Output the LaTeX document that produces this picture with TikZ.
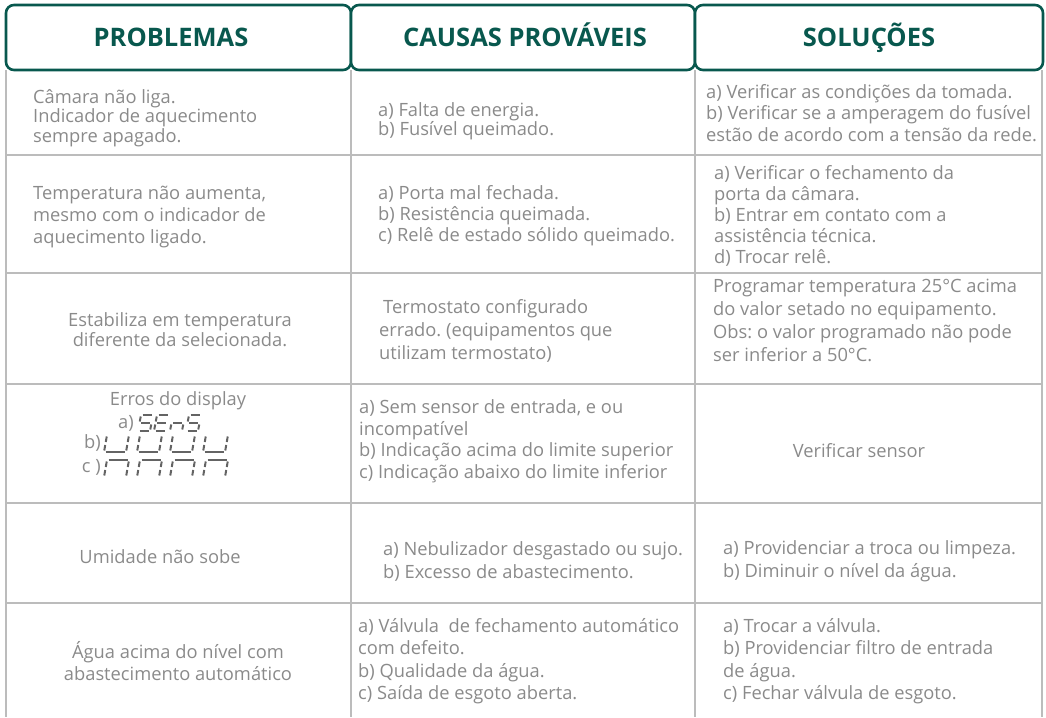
\documentclass[tikz,border=0pt]{standalone}
\usepackage{fontspec}
\setmainfont{Open Sans}
\frenchspacing

\definecolor{headgreen}{RGB}{8,88,78}
\definecolor{txtgray}{RGB}{138,138,138}
\definecolor{gridgray}{RGB}{188,188,188}
\definecolor{seggray}{RGB}{100,100,100}

\tikzset{
  gridline/.style={draw=gridgray, line width=1.6pt},
  headbox/.style={draw=headgreen, line width=2.6pt, rounded corners=8pt, fill=white},
  headtxt/.style={text=headgreen, font=\bfseries\fontsize{25.5}{30}\selectfont, inner sep=0pt, anchor=base},
  cell/.style={text=txtgray, inner sep=0pt, align=left, anchor=west, font=\fontsize{18.3}{22}\selectfont},
  segline/.style={draw=seggray, line width=2pt, shorten >=1.5pt, shorten <=1.5pt}
}

\begin{document}
\begin{tikzpicture}[x=1pt,y=-1pt]
	\useasboundingbox (0,0) rectangle (1046,717);

	% table rules
	\foreach \x in {6,351,695,1042}
		\draw[gridline] (\x,70) -- (\x,717);
	\foreach \y in {155,273,384,503,603}
		\draw[gridline] (6,\y) -- (1042,\y);

	% header
	\draw[headbox] (6,5) rectangle (351,70);
	\draw[headbox] (351,5) rectangle (695,70);
	\draw[headbox] (695,5) rectangle (1043,70);
	\node[headtxt] (hprob) at (171,47) {PROBLEMAS};
	\node[headtxt] (hcaus) at (525,47) {CAUSAS PROVÁVEIS};
	\node[headtxt] (hsol) at (869,47) {SOLUÇÕES};

	% row 1
	\node[cell, font=\fontsize{18.3}{19.5}\selectfont] (prob1) at (33,118) {Câmara não liga.\\Indicador de aquecimento\\sempre apagado.};
	\node[cell, font=\fontsize{18.3}{19.5}\selectfont] (caus1) at (378,121) {a) Falta de energia.\\b) Fusível queimado.};
	\node[cell, font=\fontsize{18.3}{21.5}\selectfont] (sol1) at (706,113) {a) Verificar as condições da tomada.\\b) Verificar se a amperagem do fusível\\estão de acordo com a tensão da rede.};

	% row 2
	\node[cell] (prob2) at (33,217) {Temperatura não aumenta,\\mesmo com o indicador de\\aquecimento ligado.};
	\node[cell, font=\fontsize{18.3}{21}\selectfont] (caus2) at (378,216) {a) Porta mal fechada.\\b) Resistência queimada.\\c) Relê de estado sólido queimado.};
	\node[cell, font=\fontsize{18.3}{21}\selectfont] (sol2) at (714,216) {a) Verificar o fechamento da\\porta da câmara.\\b) Entrar em contato com a\\assistência técnica.\\d) Trocar relê.};

	% row 3
	\node[cell, align=center, anchor=center, font=\fontsize{18.3}{20}\selectfont] (prob3) at (180,330) {Estabiliza em temperatura\\diferente da selecionada.};
	\node[cell, font=\fontsize{18.3}{23}\selectfont] (caus3) at (379,331) {\hspace*{4pt}Termostato configurado\\errado. (equipamentos que\\utilizam termostato)};
	\node[cell, font=\fontsize{18.3}{23}\selectfont] (sol3) at (713,320) {Programar temperatura 25°C acima\\do valor setado no equipamento.\\Obs: o valor programado não pode\\ser inferior a 50°C.};

	% row 4
	\node[cell, anchor=center] (prob4) at (178,401) {Erros do display};
	\node[cell, anchor=east] (erra) at (134,423) {a)};
	\node[cell, anchor=east] (errb) at (101,443) {b)};
	\node[cell, anchor=east] (errc) at (101,467) {c )};
	\node[cell, font=\fontsize{18.3}{21.5}\selectfont] (caus4) at (359,441) {a) Sem sensor de entrada, e ou\\incompatível\\b) Indicação acima do limite superior\\c) Indicação abaixo do limite inferior};
	\node[cell, anchor=center] (sol4) at (859,451) {Verificar sensor};

	% row 5
	\node[cell, anchor=center] (prob5) at (160,557) {Umidade não sobe};
	\node[cell, font=\fontsize{18.3}{23}\selectfont] (caus5) at (383,561) {a) Nebulizador desgastado ou sujo.\\b) Excesso de abastecimento.};
	\node[cell, font=\fontsize{18.3}{23}\selectfont] (sol5) at (723,561) {a) Providenciar a troca ou limpeza.\\b) Diminuir o nível da água.};

	% row 6
	\node[cell, align=center, anchor=center] (prob6) at (178,661) {Água acima do nível com\\abastecimento automático};
	\node[cell, font=\fontsize{18.3}{22.5}\selectfont] (caus6) at (358,661) {a) Válvula\ \ de fechamento automático\\com defeito.\\b) Qualidade da água.\\c) Saída de esgoto aberta.};
	\node[cell, font=\fontsize{18.3}{22.5}\selectfont] (sol6) at (723,661) {a) Trocar a válvula.\\b) Providenciar filtro de entrada\\de água.\\c) Fechar válvula de esgoto.};

	% seven segment digits: origin is the lower left corner
	\def\dw{12}
	\def\dh{16}
	\def\ds{3}
	\newcommand*{\segdigit}[2]{%
	\begin{scope}[shift={(#1)}]
	\coordinate (bl) at (0,0);
	\coordinate (br) at (\dw,0);
	\coordinate (ml) at (0.5*\ds,-0.5*\dh);
	\coordinate (mr) at (\dw+0.5*\ds,-0.5*\dh);
	\coordinate (tl) at (\ds,-\dh);
	\coordinate (tr) at (\dw+\ds,-\dh);
	\foreach \p/\q in #2 {\draw[segline] (\p) -- (\q);}
	\end{scope}
	}
	\def\segS{tl/tr,tl/ml,ml/mr,mr/br,bl/br}
	\def\segE{tl/tr,tl/ml,ml/mr,ml/bl,bl/br}
	\def\segn{ml/mr,ml/bl,mr/br}
	\def\segU{tl/ml,ml/bl,bl/br,tr/mr,mr/br}
	\def\segA{tl/tr,tl/ml,ml/bl,tr/mr,mr/br}

	\begin{scope}
	\segdigit{138,431}{\segS}
	\segdigit{154,431}{\segE}
	\segdigit{170,431}{\segn}
	\segdigit{186,431}{\segS}
	\def\dw{22}
	\def\dh{17}
	\foreach \i in {0,...,3} {\segdigit{104+33*\i,452}{\segU}}
	\foreach \i in {0,...,3} {\segdigit{104+33*\i,477}{\segA}}
	\end{scope}
\end{tikzpicture}
\end{document}
